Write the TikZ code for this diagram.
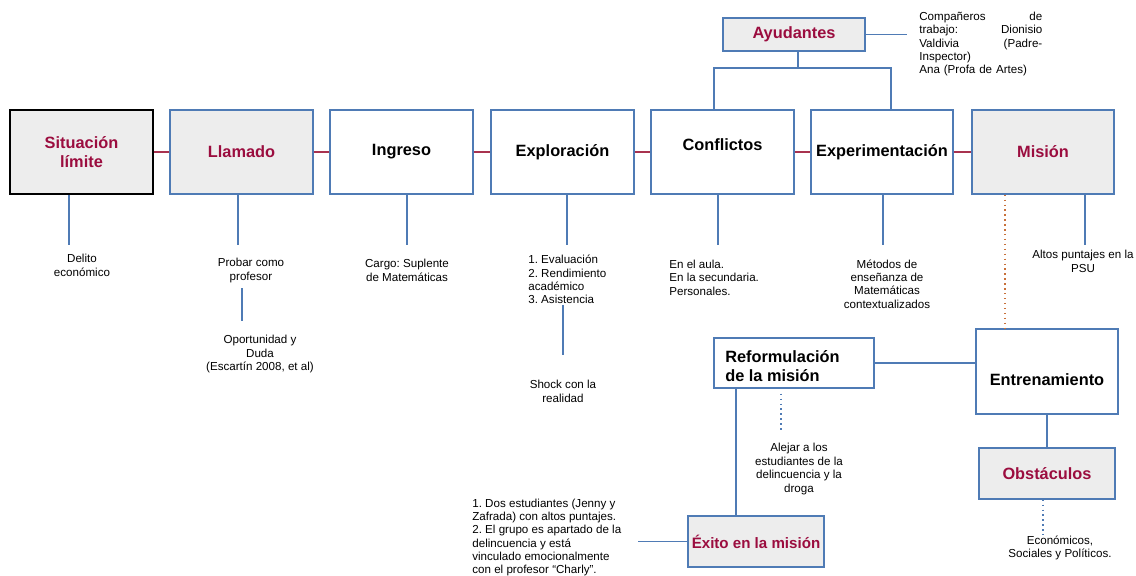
\documentclass[tikz,border=0pt]{standalone}
\usepackage{fontspec}
\setmainfont{Liberation Sans}
\usetikzlibrary{positioning}
\definecolor{vino}{HTML}{9B0D3F}
\definecolor{azul}{HTML}{4F7BB5}
\definecolor{gris}{HTML}{EDEDED}
\definecolor{rojo}{HTML}{A8324F}
\definecolor{naranja}{HTML}{C8703A}
\frenchspacing

\begin{document}
\begin{tikzpicture}[
        x=0.02cm, y=-0.02cm,
        etapa/.style={draw=azul, line width=0.8pt, fill=white, minimum width=2.86cm,
            minimum height=1.68cm, inner sep=0pt, align=center,
            font=\fontsize{9.3}{10.5}\selectfont\bfseries},
        clave/.style={etapa, fill=gris, text=vino},
        nota/.style={font=\fontsize{6.6}{7.6}\selectfont, align=center, inner sep=0pt},
        enlace/.style={draw=azul, line width=0.8pt},
        cadena/.style={draw=rojo, line width=0.8pt}
    ]

    \useasboundingbox (0,0) rectangle (1136,575);

    % Etapas principales
    \node[clave, draw=black] (sit) at (81.5,152) {Situación\\límite};
    \node[clave] (llam) at (241.5,152) {Llamado};
    \node[etapa] (ingr) at (401.5,152) {Ingreso};
    \node[etapa] (expl) at (562.5,152) {Exploración};
    \node[etapa] (conf) at (722.5,152) {\raisebox{0.7pt}[0pt][0pt]{Conflictos}};
    \node[etapa, minimum width=2.84cm] (exper) at (882,152) {Experimentación};
    \node[clave, minimum width=2.84cm] (mis) at (1043,152) {Misión};

    \foreach \a/\b in {sit/llam, llam/ingr, ingr/expl, expl/conf, conf/exper, exper/mis}
        \draw[cadena] (\a) -- (\b);

    % Ayudantes
    \node[clave, minimum width=2.84cm, minimum height=0.66cm] (ayud) at (794,34.5) {Ayudantes};
    \node[nota, align=left, text width=2.46cm, anchor=west] (comp) at (919,44) {Compañeros\hfill de\\
        trabajo:\hfill Dionisio\\
        Valdivia\hfill (Padre-\\
        Inspector)\\
        Ana (Profa de Artes)};
    \draw[enlace] (ayud.east) -- (907,34.5);
    \draw[enlace] (ayud.south -| 798,0) -- (798,68) -- (714,68) -- (conf.north -| 714,0);
    \draw[enlace] (798,68) -- (891,68) -- (exper.north -| 891,0);

    % Notas bajo las etapas
    \node[nota] (delito) at (82,265.5) {Delito\\económico};
    \draw[enlace] (sit.south -| 69,0) -- (69,245);

    \node[nota] (probar) at (251,270.5) {Probar como\\profesor};
    \draw[enlace] (llam.south -| 238,0) -- (238,245);
    \node[nota] (oport) at (260,354) {Oportunidad y\\Duda\\(Escartín 2008, et al)};
    \draw[enlace] (242,288) -- (242,321);

    \node[nota] (cargo) at (407,270.5) {Cargo: Suplente\\de Matemáticas};
    \draw[enlace] (ingr.south -| 407,0) -- (407,245);

    \node[nota, align=left, anchor=west] (eval) at (528,279.5) {1. Evaluación\\2. Rendimiento\\académico\\3. Asistencia};
    \draw[enlace] (expl.south -| 567,0) -- (567,245);
    \node[nota] (shock) at (563,391.5) {Shock con la\\realidad};
    \draw[enlace] (563,305) -- (563,355);

    \node[nota, align=left, anchor=west] (aula) at (669,277.5) {En el aula.\\En la secundaria.\\Personales.};
    \draw[enlace] (conf.south -| 718,0) -- (718,245);

    \node[nota] (metodos) at (887,284) {Métodos de\\enseñanza de\\Matemáticas\\contextualizados};
    \draw[enlace] (exper.south -| 883,0) -- (883,245);

    \node[nota] (altos) at (1083,261.5) {Altos puntajes en la\\PSU};
    \draw[enlace] (mis.south -| 1085,0) -- (1085,245);

    % Entrenamiento y reformulacion
    \node[etapa, minimum width=2.84cm, minimum height=1.7cm] (entr) at (1047,371.5) {\raisebox{-8pt}[0pt][0pt]{Entrenamiento}};
    \draw[naranja, line width=0.8pt, dotted] (mis.south -| 1005,0) -- (entr.north -| 1005,0);

    \node[etapa, minimum width=3.2cm, minimum height=1cm, align=left] (reform) at (794,363) {\raisebox{-4pt}[0pt][0pt]{\parbox{2.75cm}{Reformulación\\de la misión}}};
    \draw[enlace] (reform.east) -- (reform.east -| entr.west);

    \node[nota] (alejar) at (799,469) {Alejar a los\\estudiantes de la\\delincuencia y la\\droga};
    \draw[azul, line width=0.8pt, dotted] (reform.south -| 781,0) ++(0,5) -- (781,432);

    \node[clave, minimum width=2.72cm, minimum height=1.02cm, font=\fontsize{8.6}{10}\selectfont\bfseries] (exito) at (756,541.5) {Éxito en la misión};
    \draw[enlace] (reform.south -| 736,0) -- (exito.north -| 736,0);

    \node[nota, align=left, anchor=west] (dos) at (472,537.5) {1. Dos estudiantes (Jenny y\\
        Zafrada) con altos puntajes.\\
        2. El grupo es apartado de la\\
        delincuencia y está\\
        vinculado emocionalmente\\
        con el profesor “Charly”.};
    \draw[enlace] (exito.west) -- (exito.west -| 638,0);

    % Obstaculos
    \node[clave, minimum width=2.72cm, minimum height=1.02cm] (obst) at (1047,473.5) {Obstáculos};
    \draw[enlace] (entr.south) -- (obst.north);
    \node[nota] (econ) at (1060,548) {Económicos,\\Sociales y Políticos.};
    \draw[azul, line width=0.8pt, dotted] (obst.south -| 1043,0) -- (1043,535);

\end{tikzpicture}
\end{document}
